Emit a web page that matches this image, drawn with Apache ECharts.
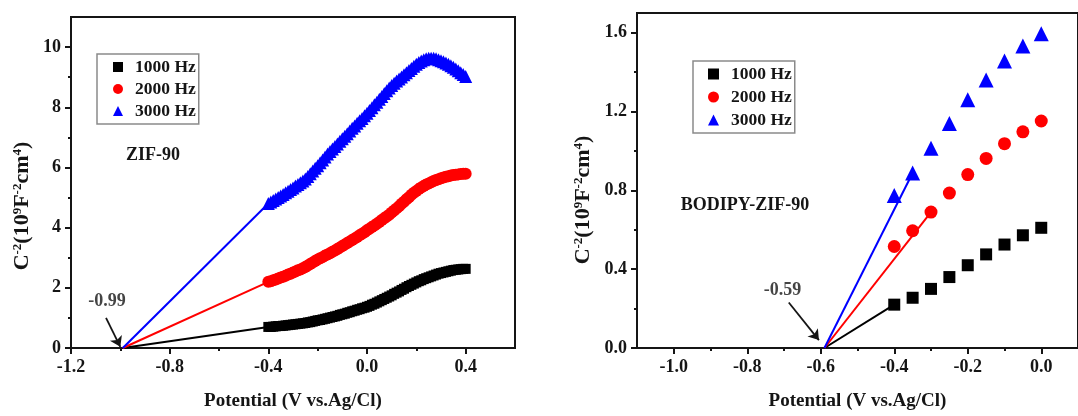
<!DOCTYPE html>
<html>
<head>
<meta charset="utf-8">
<script src="https://cdn.jsdelivr.net/npm/echarts@6/dist/echarts.min.js"></script>
<style>
  html, body { margin: 0; padding: 0; background: #fff; }
  #chart { width: 1078px; height: 416px; }
</style>
</head>
<body>
<div id="chart"></div>
<script>
// ---- ZIF-90: dense Mott–Schottky sweep (V vs. Ag/Cl, 10^9 F^-2 cm^4) ----
const zifPotential = [
  -0.40, -0.39, -0.38, -0.37, -0.36, -0.35, -0.34, -0.33, -0.32, -0.31,
  -0.30, -0.29, -0.28, -0.27, -0.26, -0.25, -0.24, -0.23, -0.22, -0.21,
  -0.20, -0.19, -0.18, -0.17, -0.16, -0.15, -0.14, -0.13, -0.12, -0.11,
  -0.10, -0.09, -0.08, -0.07, -0.06, -0.05, -0.04, -0.03, -0.02, -0.01,
   0.00,  0.01,  0.02,  0.03,  0.04,  0.05,  0.06,  0.07,  0.08,  0.09,
   0.10,  0.11,  0.12,  0.13,  0.14,  0.15,  0.16,  0.17,  0.18,  0.19,
   0.20,  0.21,  0.22,  0.23,  0.24,  0.25,  0.26,  0.27,  0.28,  0.29,
   0.30,  0.31,  0.32,  0.33,  0.34,  0.35,  0.36,  0.37,  0.38,  0.39, 0.40
];
const zif1000 = [
  0.70, 0.70, 0.71, 0.72, 0.73, 0.73, 0.74, 0.75, 0.76, 0.77,
  0.78, 0.79, 0.80, 0.81, 0.82, 0.83, 0.85, 0.86, 0.88, 0.90,
  0.92, 0.93, 0.95, 0.97, 0.99, 1.01, 1.03, 1.05, 1.07, 1.10,
  1.12, 1.14, 1.17, 1.19, 1.22, 1.24, 1.27, 1.29, 1.32, 1.34,
  1.37, 1.40, 1.44, 1.47, 1.51, 1.55, 1.59, 1.63, 1.67, 1.71,
  1.75, 1.80, 1.84, 1.88, 1.93, 1.97, 2.02, 2.06, 2.10, 2.14,
  2.18, 2.22, 2.25, 2.29, 2.32, 2.35, 2.38, 2.41, 2.44, 2.47,
  2.49, 2.51, 2.53, 2.55, 2.57, 2.59, 2.60, 2.61, 2.62, 2.63, 2.63
];
const zif2000 = [
  2.20, 2.22, 2.25, 2.28, 2.31, 2.34, 2.37, 2.40, 2.44, 2.47,
  2.51, 2.54, 2.58, 2.61, 2.65, 2.69, 2.74, 2.79, 2.84, 2.89,
  2.94, 2.98, 3.02, 3.07, 3.11, 3.15, 3.20, 3.24, 3.29, 3.34,
  3.39, 3.44, 3.49, 3.54, 3.59, 3.64, 3.69, 3.75, 3.80, 3.85,
  3.91, 3.96, 4.02, 4.07, 4.13, 4.19, 4.25, 4.31, 4.37, 4.43,
  4.50, 4.57, 4.64, 4.71, 4.79, 4.86, 4.94, 5.01, 5.09, 5.16,
  5.22, 5.28, 5.33, 5.38, 5.43, 5.47, 5.51, 5.55, 5.58, 5.61,
  5.64, 5.67, 5.69, 5.71, 5.73, 5.75, 5.76, 5.77, 5.78, 5.79, 5.79
];
const zif3000 = [
  4.80, 4.85, 4.90, 4.95, 5.00, 5.05, 5.10, 5.16, 5.21, 5.27,
  5.32, 5.38, 5.43, 5.49, 5.55, 5.62, 5.70, 5.79, 5.88, 5.97,
  6.06, 6.16, 6.25, 6.35, 6.45, 6.53, 6.61, 6.70, 6.78, 6.87,
  6.95, 7.04, 7.12, 7.21, 7.30, 7.38, 7.47, 7.55, 7.63, 7.72,
  7.80, 7.89, 7.98, 8.08, 8.17, 8.27, 8.36, 8.46, 8.55, 8.64,
  8.72, 8.80, 8.87, 8.94, 9.01, 9.08, 9.15, 9.22, 9.29, 9.36,
  9.43, 9.49, 9.54, 9.58, 9.61, 9.63, 9.63, 9.63, 9.61, 9.58,
  9.55, 9.51, 9.47, 9.43, 9.38, 9.33, 9.27, 9.21, 9.15, 9.09, 9.02
];
const zifIntercept = -0.99;

// ---- BODIPY-ZIF-90 ----
const bodipyPotential = [-0.40, -0.35, -0.30, -0.25, -0.20, -0.15, -0.10, -0.05, 0.00];
const bodipy1000 = [0.22, 0.255, 0.30, 0.36, 0.42, 0.475, 0.525, 0.572, 0.61];
const bodipy2000 = [0.515, 0.595, 0.69, 0.786, 0.88, 0.962, 1.037, 1.097, 1.152];
const bodipy3000 = [0.774, 0.888, 1.014, 1.139, 1.26, 1.36, 1.456, 1.533, 1.595];
const bodipyIntercept = -0.59;
// index of the last point each extrapolated fit reaches (1000, 2000, 3000 Hz)
const bodipyFitEnd = [0, 2, 1];

// ---- legend / tick labels ----
const freqNames = ['1000 Hz', '2000 Hz', '3000 Hz'];
const zifXTicks = [-1.2, -0.8, -0.4, 0.0, 0.4];
const zifXMinor = [-1.0, -0.6, -0.2, 0.2];
const zifYTicks = [0, 2, 4, 6, 8, 10];
const zifYMinor = [1, 3, 5, 7, 9];
const bodipyXTicks = [-1.0, -0.8, -0.6, -0.4, -0.2, 0.0];
const bodipyXMinor = [-0.9, -0.7, -0.5, -0.3, -0.1];
const bodipyYTicks = [0.0, 0.4, 0.8, 1.2, 1.6];
const bodipyYMinor = [0.2, 0.6, 1.0, 1.4];

const SERIF = '"Liberation Serif", "Times New Roman", serif';
const INK = '#151515';
const colors = ['#000000', '#ff0000', '#0000ff'];
const symbols = ['rect', 'circle', 'triangle'];

function majorAxis(grid, min, max, ticks, fmt, extra) {
  return Object.assign({
    type: 'value', gridIndex: grid, min: min, max: max,
    axisLine: { show: true, onZero: false, lineStyle: { color: INK, width: 2 } },
    axisTick: { show: true, inside: false, length: 6, customValues: ticks,
                lineStyle: { color: INK, width: 2 } },
    axisLabel: { show: true, customValues: ticks, formatter: fmt, margin: 10,
                 fontFamily: SERIF, fontWeight: 'bold', fontSize: 18, color: INK },
    splitLine: { show: false }, minorTick: { show: false }
  }, extra || {});
}
function minorAxis(grid, min, max, ticks, extra) {
  return Object.assign({
    type: 'value', gridIndex: grid, min: min, max: max,
    axisLine: { show: false, onZero: false },
    axisTick: { show: true, inside: false, length: 3, customValues: ticks,
                lineStyle: { color: INK, width: 2 } },
    axisLabel: { show: false }, splitLine: { show: false }
  }, extra || {});
}

const xTitle = {
  name: 'Potential (V vs.Ag/Cl)', nameLocation: 'middle', nameGap: 44,
  nameTextStyle: { fontFamily: SERIF, fontWeight: 'bold', fontSize: 19, color: INK }
};

const fmt1 = v => v.toFixed(1);
const fmt0 = v => String(Math.round(v));

const xAxis = [
  majorAxis(0, -1.2, 0.6, zifXTicks, fmt1, Object.assign({ position: 'bottom' }, xTitle)),
  minorAxis(0, -1.2, 0.6, zifXMinor, { position: 'bottom' }),
  majorAxis(1, -1.1, 0.1, bodipyXTicks, fmt1, Object.assign({ position: 'bottom' }, xTitle)),
  minorAxis(1, -1.1, 0.1, bodipyXMinor, { position: 'bottom' })
];
const yAxis = [
  majorAxis(0, 0, 11, zifYTicks, fmt0, { position: 'left' }),
  minorAxis(0, 0, 11, zifYMinor, { position: 'left' }),
  majorAxis(1, 0, 1.7, bodipyYTicks, fmt1, { position: 'left' }),
  minorAxis(1, 0, 1.7, bodipyYMinor, { position: 'left' })
];

const series = [];
const zifSets = [zif1000, zif2000, zif3000];
const bodipySets = [bodipy1000, bodipy2000, bodipy3000];

zifSets.forEach((vals, k) => {
  series.push({
    name: freqNames[k] + ' fit', type: 'line', xAxisIndex: 0, yAxisIndex: 0,
    data: [[zifIntercept, 0], [zifPotential[0], vals[0]]],
    showSymbol: false, symbol: 'none', silent: true, z: 2,
    lineStyle: { color: colors[k], width: 2 }
  });
  series.push({
    name: freqNames[k], type: 'scatter', xAxisIndex: 0, yAxisIndex: 0,
    data: zifPotential.map((x, i) => [x, vals[i]]),
    symbol: symbols[k], symbolSize: [10, 12, 13][k], z: 3, large: false,
    itemStyle: { color: colors[k], opacity: 1 }
  });
});

bodipySets.forEach((vals, k) => {
  const e = bodipyFitEnd[k];
  series.push({
    name: freqNames[k] + ' fit', type: 'line', xAxisIndex: 2, yAxisIndex: 2,
    data: [[bodipyIntercept, 0], [bodipyPotential[e], vals[e]]],
    showSymbol: false, symbol: 'none', silent: true, z: 2,
    lineStyle: { color: colors[k], width: 2 }
  });
  series.push({
    name: freqNames[k], type: 'scatter', xAxisIndex: 2, yAxisIndex: 2,
    data: bodipyPotential.map((x, i) => [x, vals[i]]),
    symbol: symbols[k], symbolSize: [12, 13, 15][k], z: 3,
    itemStyle: { color: colors[k], opacity: 1 }
  });
});

// intercept call-outs: arrow pointing at the intercept + its value
function callout(xi, yi, from, to, textAt, label) {
  series.push({
    type: 'lines', coordinateSystem: 'cartesian2d', xAxisIndex: xi, yAxisIndex: yi,
    data: [{ coords: [from, to] }],
    symbol: ['none', 'arrow'], symbolSize: [0, 10], silent: true, z: 4,
    lineStyle: { color: INK, width: 1.8, opacity: 1 }
  });
  series.push({
    type: 'scatter', xAxisIndex: xi, yAxisIndex: yi, silent: true, z: 4,
    data: [{ value: textAt, name: label }], symbolSize: 1,
    itemStyle: { color: 'rgba(0,0,0,0)' },
    label: { show: true, position: 'inside', formatter: '{b}',
             fontFamily: SERIF, fontSize: 18, fontWeight: 'bold', color: INK }
  });
}
callout(0, 0, [-1.058, 1.0], [zifIntercept - 0.01, 0.04], [-1.054, 1.56], String(zifIntercept));
callout(2, 2, [-0.687, 0.231], [bodipyIntercept - 0.015, 0.04], [-0.704, 0.291], String(bodipyIntercept));

function legendAt(left, top, size, rowGap, padLeft) {
  return {
    orient: 'vertical', left: left, top: top,
    data: freqNames.map((n, k) => ({ name: n, icon: symbols[k] })),
    itemWidth: size, itemHeight: size, itemGap: rowGap,
    padding: [4, 3, 4, padLeft],
    borderColor: '#8a8a8a', borderWidth: 1.5, backgroundColor: '#fff',
    selectedMode: false,
    textStyle: { fontFamily: SERIF, fontWeight: 'bold', fontSize: 17.5, color: INK,
                 padding: [0, 0, 0, 7] }
  };
}

const yTitleRich = {
  m: { fontFamily: SERIF, fontWeight: 'bold', fontSize: 22, color: INK },
  s: { fontFamily: SERIF, fontWeight: 'bold', fontSize: 13, color: INK, verticalAlign: 'top' }
};
const yTitleText = '{m|C}{s|-2}{m|(10}{s|9}{m|F}{s|-2}{m|cm}{s|4}{m|)}';

function yTitle(x, y) {
  return {
    type: 'text', x: x, y: y, rotation: Math.PI / 2, silent: true,
    style: { text: yTitleText, rich: yTitleRich, align: 'center', verticalAlign: 'middle', fill: INK }
  };
}
function panelText(x, y, text) {
  return {
    type: 'text', x: x, y: y, silent: true,
    style: { text: text, font: 'bold 18px ' + SERIF, fill: INK, align: 'center', verticalAlign: 'middle' }
  };
}

const chart = echarts.init(document.getElementById('chart'), null, { renderer: 'canvas' });
chart.setOption({
  animation: false,
  backgroundColor: '#ffffff',
  grid: [
    { left: 71, top: 17, width: 444, height: 331, show: true, borderColor: INK, borderWidth: 2, backgroundColor: 'transparent' },
    { left: 637, top: 13, width: 451, height: 338, show: true, borderColor: INK, borderWidth: 2, backgroundColor: 'transparent' }
  ],
  xAxis: xAxis,
  yAxis: yAxis,
  legend: [legendAt(97, 54, 10, 4, 16), legendAt(693, 61, 11, 5, 15)],
  graphic: [
    yTitle(22, 206),
    yTitle(583, 200),
    panelText(153, 155, 'ZIF-90'),
    panelText(745, 205, 'BODIPY-ZIF-90')
  ],
  series: series
});
</script>
</body>
</html>
